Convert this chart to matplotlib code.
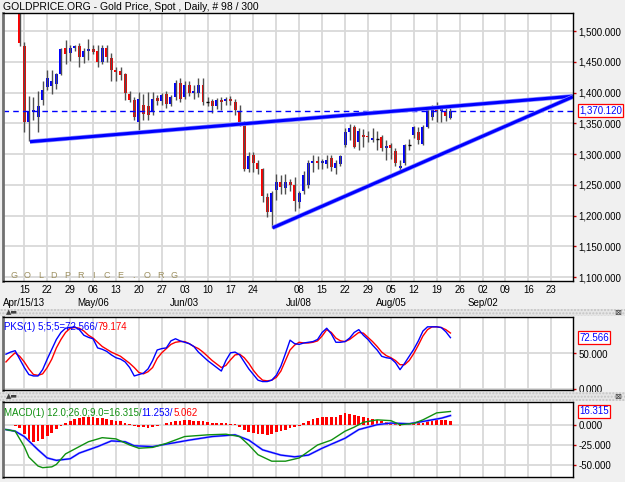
import matplotlib
matplotlib.use("Agg")
import matplotlib.pyplot as plt
import matplotlib.transforms as mtransforms
from matplotlib.patches import Rectangle
from matplotlib.ticker import FuncFormatter
import numpy as np

plt.rcParams['font.family'] = ['Liberation Sans', 'DejaVu Sans']

# bar index: 0 = Mon Apr 15 2013, one step per weekday (98 bars, -4 .. 93)
days = list(range(-4, 94))
opens = [1575, 1584, 1558, 1564, 1476, 1352, 1368, 1360, 1388, 1409,
         1410, 1414, 1430, 1472, 1464, 1472, 1475, 1458, 1467, 1470,
         1468, 1450, 1472, 1456, 1437, 1435, 1430, 1398, 1388, 1352,
         1380, 1378, 1368, 1391, 1386, 1397, 1382, 1392, 1415, 1393,
         1412, 1399, 1400, 1413, 1384, 1386, 1378, 1388, 1386, 1390,
         1385, 1370, 1350, 1276, 1298, 1285, 1275, 1230, 1206, 1241,
         1254, 1245, 1255, 1250, 1222, 1240, 1250, 1285, 1288, 1285,
         1284, 1293, 1278, 1283, 1315, 1335, 1344, 1320, 1331, 1330,
         1323, 1324, 1328, 1309, 1314, 1305, 1278, 1285, 1314, 1331,
         1335, 1317, 1344, 1360, 1374, 1370, 1369, 1359]
highs = [1586, 1587, 1568, 1566, 1482, 1395, 1392, 1402, 1419, 1437,
         1437, 1432, 1472, 1485, 1478, 1478, 1480, 1473, 1487, 1478,
         1477, 1477, 1477, 1464, 1442, 1442, 1431, 1402, 1393, 1401,
         1398, 1401, 1401, 1396, 1400, 1402, 1396, 1421, 1423, 1418,
         1418, 1412, 1424, 1423, 1392, 1390, 1391, 1393, 1393, 1394,
         1390, 1380, 1353, 1304, 1304, 1290, 1278, 1236, 1240, 1267,
         1266, 1268, 1260, 1262, 1240, 1272, 1290, 1298, 1296, 1292,
         1298, 1298, 1290, 1298, 1342, 1349, 1347, 1342, 1340, 1337,
         1342, 1337, 1331, 1323, 1318, 1309, 1290, 1316, 1324, 1346,
         1344, 1347, 1377, 1380, 1385, 1377, 1377, 1375]
lows = [1571, 1553, 1550, 1476, 1336, 1321, 1356, 1336, 1380, 1404,
        1398, 1405, 1428, 1447, 1452, 1468, 1442, 1448, 1453, 1462,
        1442, 1447, 1450, 1419, 1419, 1420, 1388, 1385, 1355, 1339,
        1356, 1355, 1364, 1380, 1380, 1375, 1378, 1388, 1385, 1390,
        1395, 1390, 1393, 1380, 1378, 1366, 1374, 1372, 1380, 1380,
        1363, 1345, 1273, 1270, 1270, 1268, 1222, 1198, 1180, 1225,
        1235, 1235, 1240, 1207, 1212, 1235, 1245, 1270, 1275, 1275,
        1278, 1272, 1268, 1280, 1312, 1323, 1309, 1306, 1312, 1320,
        1320, 1306, 1305, 1290, 1292, 1281, 1271, 1282, 1306, 1326,
        1317, 1315, 1343, 1355, 1352, 1352, 1354, 1357]
closes = [1584, 1558, 1564, 1480, 1352, 1370, 1372, 1378, 1404, 1423,
          1418, 1430, 1470, 1462, 1473, 1475, 1458, 1468, 1470, 1466,
          1450, 1472, 1458, 1437, 1434, 1428, 1399, 1388, 1360, 1389,
          1365, 1364, 1390, 1386, 1396, 1382, 1392, 1415, 1390, 1413,
          1400, 1402, 1413, 1384, 1385, 1378, 1388, 1384, 1390, 1386,
          1371, 1350, 1276, 1297, 1286, 1275, 1231, 1206, 1236, 1255,
          1246, 1255, 1250, 1224, 1236, 1266, 1286, 1288, 1286, 1289,
          1291, 1279, 1285, 1297, 1336, 1343, 1312, 1337, 1327, 1328,
          1326, 1324, 1309, 1313, 1310, 1285, 1281, 1314, 1314, 1344,
          1323, 1344, 1374, 1377, 1370, 1373, 1361, 1370.12]
last_price = 1370.12

# hand-drawn trend lines (bar index, price)
upper_line_x = [1.24, 119.7]
upper_line_y = [1320, 1394]
lower_line_x = [54.2, 119.7]
lower_line_y = [1180, 1393]

# stochastic (PKS 5;5;5)
pks_k = [49, 52, 54, 42, 30, 20, 18, 18, 27, 42, 56, 70, 80, 86, 87, 88, 84, 76, 73, 71,
         58, 56, 53, 48, 44, 42, 38, 30, 18, 20, 22, 28, 40, 55, 57, 58, 68, 71, 68, 66,
         64, 60, 52, 46, 40, 35, 30, 25, 40, 51, 52, 48, 38, 28, 20, 12, 10, 10, 12, 19,
         32, 50, 69, 64, 63, 65, 66, 67, 70, 80, 86, 78, 66, 66, 67, 72, 80, 84, 76, 70,
         62, 55, 46, 44, 43, 37, 27, 36, 46, 56, 68, 82, 88, 88, 88, 87, 81, 72.566]
pks_d = [38, 45, 51, 46, 38, 28, 20, 19, 21, 30, 42, 58, 70, 80, 86, 87, 86, 82, 76, 72,
         66, 60, 56, 52, 49, 46, 41, 36, 30, 23, 21, 24, 30, 43, 51, 57, 63, 66, 67, 67,
         64, 60, 57, 52, 46, 40, 35, 30, 33, 41, 48, 49, 44, 36, 26, 18, 12, 11, 12, 16,
         25, 40, 55, 62, 66, 65, 65, 66, 68, 75, 84, 80, 72, 68, 67, 70, 75, 80, 79, 73,
         67, 60, 52, 47, 44, 40, 34, 34, 40, 50, 62, 75, 84, 88, 88, 87, 84, 79.174]

# MACD 12;26;9
macd_x = [-4, -2, 0, 1, 3, 4, 6, 7, 9, 11, 14, 17, 20, 23, 25, 28, 31, 35, 40, 44,
          47, 49, 51, 54, 57, 60, 62, 64, 67, 70, 72, 74, 77, 80, 82, 85, 87, 90, 93]
macd_y = [-6, -8, -27, -40, -51, -53, -52, -49, -36, -30, -21, -16, -17.5, -25, -29, -28,
          -23, -14.6, -12.5, -11.7, -14.6, -25, -37, -45, -45, -41, -33, -25, -19, -8,
          -3, 3, 6, 5, 0, 1.6, 6, 14.6, 16.315]
signal_x = [-4, -2, 0, 3, 5, 7, 10, 12, 16, 19, 22, 24, 28, 31, 36, 41, 46, 49, 52, 56,
            59, 62, 65, 70, 73, 77, 80, 84, 87, 91, 93]
signal_y = [-6, -8, -14.6, -31, -41, -44, -42, -35, -27, -20, -21, -26, -27, -24, -19,
            -14.6, -12.5, -19, -31, -37.5, -39.6, -37.5, -29, -16.7, -6, 0, 2, 1.2, 4, 8,
            11.253]
hist = [-0.5, -0.5, -1, -4, -12, -19, -21, -20, -18, -14, -10, -5, -1, 2, 5, 7, 8, 9.5,
        10, 9.5, 8.5, 8, 7, 6, 5, 4, 2.5, 1, -1, -2.5, -3, -3.5, -3, -2, -0.5, 1.5, 3, 4,
        5, 5.5, 5.5, 5, 4.5, 4, 3, 2.5, 2, 2, 1.5, 1, 0.5, -3, -7, -9, -10, -11, -12,
        -12.5, -11, -9, -7.5, -6, -4, -2.5, -1, 1.5, 4, 6.5, 8, 9, 9.5, 9.5, 10, 12, 14,
        13.5, 12, 11, 10, 8.5, 7, 6, 4.5, 3, 2, 0.5, -1, -0.5, 0.3, 1, 1.5, 2.5, 4, 5.5,
        6, 6, 5.5, 5.062]

grid_days = list(range(0, 120, 5))
day_labels = ['15', '22', '29', '06', '13', '20', '27', '03', '10', '17', '24', '',
              '08', '15', '22', '29', '05', '12', '19', '26', '02', '09', '16', '23']
month_days = [0, 15, 35, 60, 80, 100]
month_labels = ['Apr/15/13', 'May/06', 'Jun/03', 'Jul/08', 'Aug/05', 'Sep/02']

W, H = 625, 482
BG = '#f0f0f0'
GRID = '#d9d9d9'
XLIM = (-4.65, 119.75)


def px_axes(x0, y0, x1, y1):
    return fig.add_axes([x0 / W, 1 - y1 / H, (x1 - x0) / W, (y1 - y0) / H])


def style_panel(ax):
    ax.set_facecolor('white')
    ax.set_xlim(*XLIM)
    ax.set_xticks(grid_days)
    ax.grid(True, color=GRID, linewidth=1.3)
    ax.set_axisbelow(True)
    ax.yaxis.tick_right()
    ax.tick_params(axis='y', direction='out', length=2.5, width=1, colors='#cc0000',
                   labelcolor='black', labelsize=7, pad=1.5)
    ax.tick_params(axis='x', length=0)
    for s in ax.spines.values():
        s.set_color('black')
        s.set_linewidth(1)
    ax.spines['left'].set_color('#707070')
    ax.spines['left'].set_linewidth(2)


def value_box(ax, y, text):
    tr = mtransforms.blended_transform_factory(ax.transAxes, ax.transData)
    ax.text(1 + 6 / 570, y, text, transform=tr, ha='left', va='center', fontsize=7,
            color='#0000ff', clip_on=False,
            bbox=dict(boxstyle='square,pad=0.15', fc='white', ec='#ff0000', lw=0.9))


def multi_text(ax, x, y, parts, size=7):
    r = fig.canvas.get_renderer()
    for s, c in parts:
        t = ax.text(x, y, s, color=c, transform=ax.transAxes, fontsize=size,
                    ha='left', va='center')
        bb = t.get_window_extent(renderer=r)
        x = ax.transAxes.inverted().transform((bb.x1, bb.y0))[0]


fig = plt.figure(figsize=(W / 100, H / 100), dpi=100, facecolor=BG)

# separator strips between panes
for y0, y1 in [(309, 316), (392, 401)]:
    fig.patches.append(Rectangle((0, 1 - y1 / H), 1, (y1 - y0) / H, transform=fig.transFigure,
                                 facecolor='#e6e6e6', edgecolor='#c4c4c4', hatch='.....',
                                 linewidth=0))
    fig.text(6 / W, 1 - (y0 + y1) / 2 / H, '\u25b2\u25ac', fontsize=5, color='#404040',
             va='center', family='DejaVu Sans')
    fig.text(614 / W, 1 - (y0 + y1) / 2 / H, '\u22a0', fontsize=6, color='#404040',
             va='center', family='DejaVu Sans')

fig.text(3 / W, 1 - 7 / H, 'GOLDPRICE.ORG - Gold Price, Spot , Daily, # 98 / 300',
         fontsize=7.5, va='center', ha='left')

# ---------------- price pane ----------------
ax = px_axes(3, 13, 573, 281)
style_panel(ax)
ax.set_ylim(1093.5, 1529.3)
ax.set_yticks([1100, 1150, 1200, 1250, 1300, 1350, 1400, 1450, 1500])
ax.yaxis.set_major_formatter(FuncFormatter(lambda v, p: f'{v:,.3f}'))
ax.set_xticks(grid_days, day_labels)
ax.tick_params(axis='x', labelsize=7, pad=2.6)

for d, o, h, l, c in zip(days, opens, highs, lows, closes):
    ax.vlines(d, l, h, color='#505050', linewidth=1)
    col = '#0000ff' if c >= o else '#ff0000'
    body = abs(c - o)
    if body < 1.5:
        ax.hlines(c, d - 0.35, d + 0.35, color='black', linewidth=1)
    else:
        ax.bar(d, body, bottom=min(o, c), width=0.65, color=col, linewidth=0)

ax.axhline(last_price, color='#0000ff', linewidth=1, dashes=(4, 3))
for lx, ly in [(upper_line_x, upper_line_y), (lower_line_x, lower_line_y)]:
    ax.plot(lx, ly, color='#8c8cff', linewidth=3.2, solid_capstyle='butt')
    ax.plot(lx, ly, color='#0000ff', linewidth=2.2, solid_capstyle='butt')

value_box(ax, last_price, '1,370.120')

tr = mtransforms.blended_transform_factory(ax.transData, ax.transAxes)
for d, lab in zip(month_days, month_labels):
    ax.text(d, -0.081, lab, transform=tr, ha='center', va='center', fontsize=7)

for i, ch in enumerate('GOLDPRICE.ORG'):
    fig.text((14 + 13.3 * i) / W, 1 - 275.5 / H, ch, fontsize=6.5, color='#9d9060',
             ha='center', va='center')

# ---------------- stochastic pane ----------------
ax2 = px_axes(3, 317, 573, 390)
style_panel(ax2)
ax2.set_ylim(-2, 102)
ax2.set_yticks([0, 50])
ax2.yaxis.set_major_formatter(FuncFormatter(lambda v, p: f'{v:.3f}'))
ax2.set_xticklabels([])
ax2.plot(days, pks_d, color='#ff0000', linewidth=1)
ax2.plot(days, pks_k, color='#0000ff', linewidth=1)
value_box(ax2, pks_k[-1], '72.566')
multi_text(ax2, 0.002, 0.86, [('PKS(1) 5;5;5=72.566/', '#0000ff'), ('79.174', '#ff0000')])

# ---------------- MACD pane ----------------
ax3 = px_axes(3, 402, 573, 477)
style_panel(ax3)
ax3.set_ylim(-64.5, 28)
ax3.set_yticks([-50, -25, 0])
ax3.yaxis.set_major_formatter(FuncFormatter(lambda v, p: f'{v:.3f}'))
ax3.set_xticklabels([])
ax3.bar(days, hist, width=0.6, color='#ff0000', linewidth=0)
ax3.plot(signal_x, signal_y, color='#a0a0ff', linewidth=1.6)
ax3.plot(signal_x, signal_y, color='#0000ff', linewidth=0.9)
ax3.plot(macd_x, macd_y, color='#109010', linewidth=1)
value_box(ax3, macd_y[-1], '16.315')
multi_text(ax3, 0.002, 0.86, [('MACD(1) 12.0;26.0;9.0=16.315/', '#109010'),
                              ('11.253/', '#0000ff'), ('5.062', '#ff0000')])

fig.savefig('out.png', dpi=100, facecolor=BG)
